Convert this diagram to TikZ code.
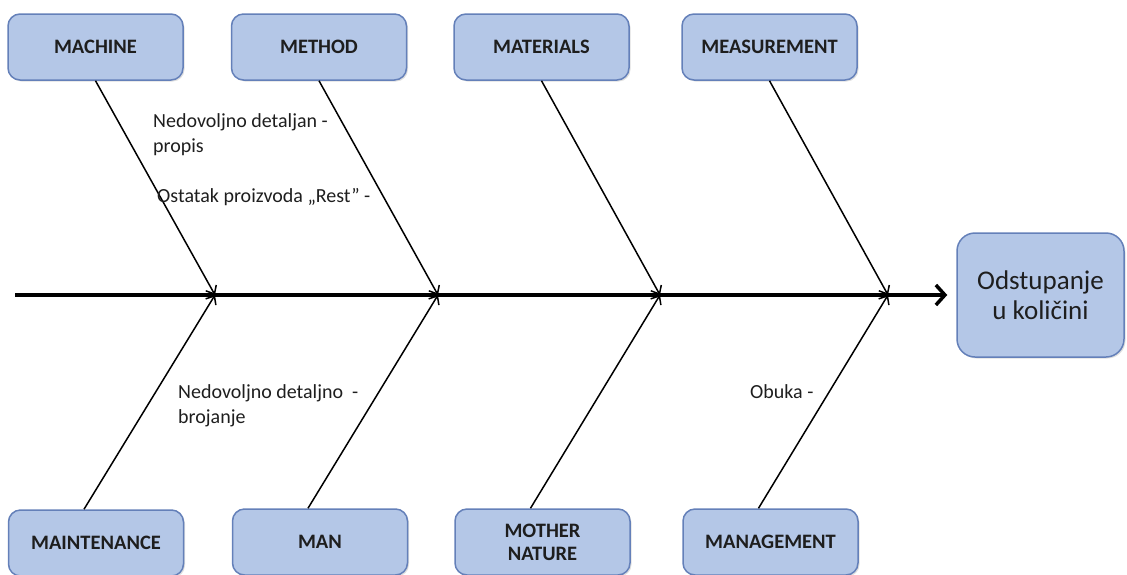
\documentclass[tikz,border=0pt]{standalone}
\usepackage{fontspec}
\setmainfont{Carlito}
\usetikzlibrary{arrows.meta,shadows}
\definecolor{boxfill}{RGB}{180,199,231}
\definecolor{boxline}{RGB}{100,128,185}
\definecolor{txt}{RGB}{30,30,30}
\begin{document}
\begin{tikzpicture}[x=1pt,y=-1pt,
  cat/.style={draw=boxline, line width=1.5pt, fill=boxfill, rounded corners=12pt,
    minimum width=175pt, minimum height=66pt, inner sep=0pt, align=center,
    font=\fontsize{20.5}{23}\selectfont\bfseries, text=txt,
    drop shadow={opacity=0.25, shadow xshift=1.5pt, shadow yshift=-1.5pt}},
  effectbox/.style={draw=boxline, line width=1.5pt, fill=boxfill, rounded corners=18pt,
    minimum width=167pt, minimum height=124pt, inner sep=0pt, align=center,
    font=\fontsize{27}{30}\selectfont, text=txt,
    drop shadow={opacity=0.25, shadow xshift=1.5pt, shadow yshift=-1.5pt}},
  spine/.style={line width=3.5pt, -{Straight Barb[length=9pt,width=20pt]}, shorten >=9pt},
  rib/.style={line width=1.5pt, -{Straight Barb[length=7pt,width=12pt]}},
  lab/.style={inner sep=0pt, align=left, text=txt, font=\fontsize{20}{25}\selectfont}]
\useasboundingbox (0,0) rectangle (1127,574);

% category boxes
\node[cat] (machine) at (95.5,47) {MACHINE};
\node[cat] (method) at (319,47) {METHOD};
\node[cat] (materials) at (541.5,47) {MATERIALS};
\node[cat] (measurement) at (769.5,47) {MEASUREMENT};
\node[cat] (maintenance) at (96,543) {MAINTENANCE};
\node[cat] (man) at (320,542) {MAN};
\node[cat] (nature) at (542.5,542) {MOTHER\\NATURE};
\node[cat] (management) at (770.5,542) {MANAGEMENT};

% effect
\node[effectbox] (effect) at (1040.5,295) {Odstupanje\\u količini};

% spine
\coordinate (tail) at (15,295);
\coordinate (j1) at (215,295);
\coordinate (j2) at (438,295);
\coordinate (j3) at (660,295);
\coordinate (j4) at (888,295);
\draw[spine] (tail) -- (effect.west);

% ribs
\draw[rib] (machine.south) -- (j1);
\draw[rib] (method.south) -- (j2);
\draw[rib] (materials.south) -- (j3);
\draw[rib] (measurement.south) -- (j4);
\draw[rib] ([xshift=-12pt]maintenance.north) -- (j1);
\draw[rib] ([xshift=-12pt]man.north) -- (j2);
\draw[rib] ([xshift=-12pt]nature.north) -- (j3);
\draw[rib] ([xshift=-12pt]management.north) -- (j4);

% cause labels
\node[lab, anchor=north west] (c1) at (153,113) {Nedovoljno detaljan -\\propis};
\node[lab, anchor=base west] (c2) at (157,202) {Ostatak proizvoda „Rest” -};
\node[lab, anchor=north west] (c3) at (178,384) {Nedovoljno detaljno\ \ -\\brojanje};
\node[lab, anchor=base west] (c4) at (750,398) {Obuka -};
\end{tikzpicture}
\end{document}
